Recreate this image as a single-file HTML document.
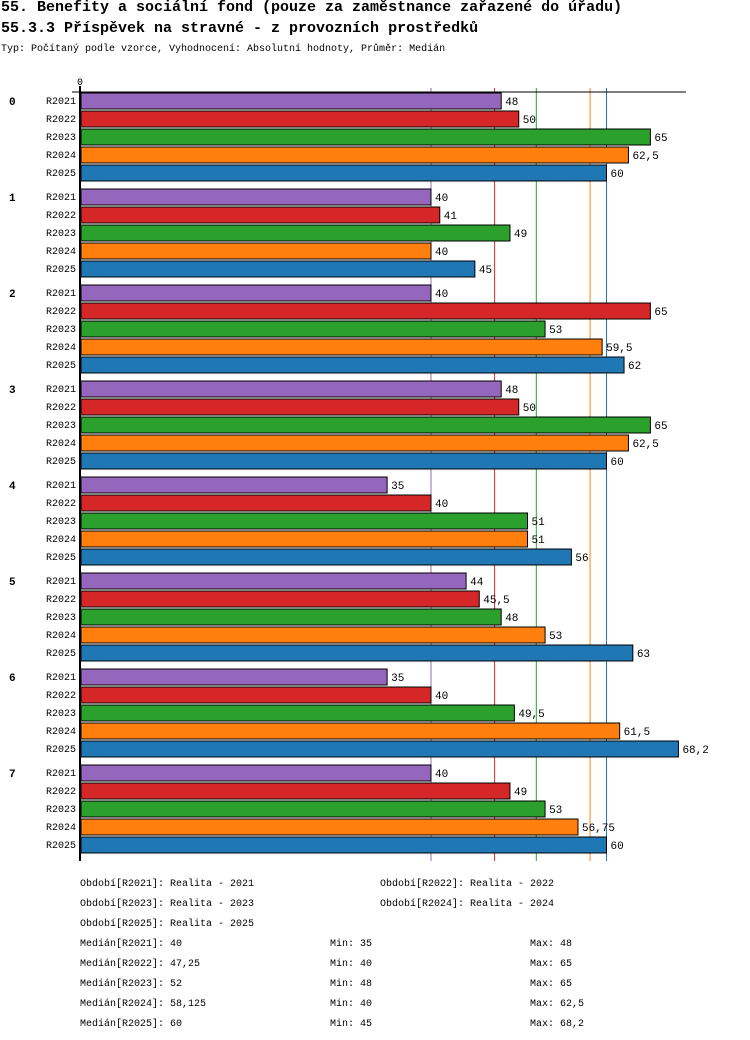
<!DOCTYPE html>
<html><head><meta charset="utf-8"><style>
body{margin:0;background:#fff;width:750px;height:1040px;overflow:hidden;font-family:"Liberation Mono","DejaVu Sans Mono",monospace;}
.t{position:absolute;left:1px;font-weight:bold;font-size:15px;white-space:nowrap;color:#000}
.s{position:absolute;left:1px;top:44px;font-size:10px;white-space:nowrap}
</style></head><body>
<div class="t" style="top:-1px">55. Benefity a sociální fond (pouze za zaměstnance zařazené do úřadu)</div>
<div class="t" style="top:20px">55.3.3 Příspěvek na stravné - z provozních prostředků</div>
<div class="s">Typ: Počítaný podle vzorce, Vyhodnocení: Absolutní hodnoty, Průměr: Medián</div>
<svg id="c" width="750" height="1040" style="position:absolute;left:0;top:0"></svg>
<script>
const groups=["0","1","2","3","4","5","6","7"];
const series=["R2021","R2022","R2023","R2024","R2025"];
const colors=["#9467bd","#d62728","#2ca02c","#ff7f0e","#1f77b4"];
const values=[
[48,50,65,62.5,60],
[40,41,49,40,45],
[40,65,53,59.5,62],
[48,50,65,62.5,60],
[35,40,51,51,56],
[44,45.5,48,53,63],
[35,40,49.5,61.5,68.2],
[40,49,53,56.75,60]];
const labels=[
["48","50","65","62,5","60"],["40","41","49","40","45"],["40","65","53","59,5","62"],["48","50","65","62,5","60"],
["35","40","51","51","56"],["44","45,5","48","53","63"],["35","40","49,5","61,5","68,2"],["40","49","53","56,75","60"]];
const medians=[40,47.25,52,58.125,60];
const periods=["Období[R2021]: Realita - 2021","Období[R2022]: Realita - 2022","Období[R2023]: Realita - 2023","Období[R2024]: Realita - 2024","Období[R2025]: Realita - 2025"];
const stats=[["Medián[R2021]: 40","Min: 35","Max: 48"],["Medián[R2022]: 47,25","Min: 40","Max: 65"],["Medián[R2023]: 52","Min: 48","Max: 65"],["Medián[R2024]: 58,125","Min: 40","Max: 62,5"],["Medián[R2025]: 60","Min: 45","Max: 68,2"]];
const svg=document.getElementById('c');const NS="http://www.w3.org/2000/svg";
const x=v=>80+v*8.775;
const by=(g,s)=>92+g*96+s*18;
function mk(t,a,txt){const e=document.createElementNS(NS,t);for(const k in a)e.setAttribute(k,a[k]);if(txt!==undefined)e.textContent=txt;svg.appendChild(e);return e;}
medians.forEach((m,i)=>{const l=mk('line',{x1:x(m),x2:x(m),y1:88,y2:861,stroke:colors[i],'stroke-width':1});

});
const ax=mk('line',{x1:80,x2:80,y1:86,y2:861,stroke:'#000','stroke-width':2});


const tl=mk('line',{x1:72,x2:686,y1:92,y2:92,stroke:'#000','stroke-width':1});


const z=mk('text',{x:80,y:85,'font-size':10,'text-anchor':'middle','font-family':'Liberation Mono, monospace'},'0');


groups.forEach((g,gi)=>{
 const gl=mk('text',{x:9,y:by(gi,0)+13,'font-size':11,'font-weight':'bold','font-family':'Liberation Mono, monospace'},g);
 
 
 series.forEach((s,si)=>{
  const y=by(gi,si);
  const sl=mk('text',{x:76,y:y+12,'font-size':10,'text-anchor':'end','font-family':'Liberation Mono, monospace'},s);
  
  
  const r=mk('rect',{x:81,y:y+1,width:x(values[gi][si])-81,height:16,fill:colors[si],stroke:'#000','stroke-width':1});
  
  
  const vl=mk('text',{x:x(values[gi][si])+4,y:y+13,'font-size':11,'font-family':'Liberation Mono, monospace'},labels[gi][si]);
  
  
 });
});
periods.forEach((p,i)=>{
 const e=mk('text',{x:i%2?380:80,y:886+Math.floor(i/2)*20,'font-size':10,'font-family':'Liberation Mono, monospace'},p);
 
 
});
stats.forEach((r,i)=>{[80,330,530].forEach((xx,j)=>{
 const e=mk('text',{x:xx,y:946+i*20,'font-size':10,'font-family':'Liberation Mono, monospace'},r[j]);
 
 
});});
</script>
</body></html>
